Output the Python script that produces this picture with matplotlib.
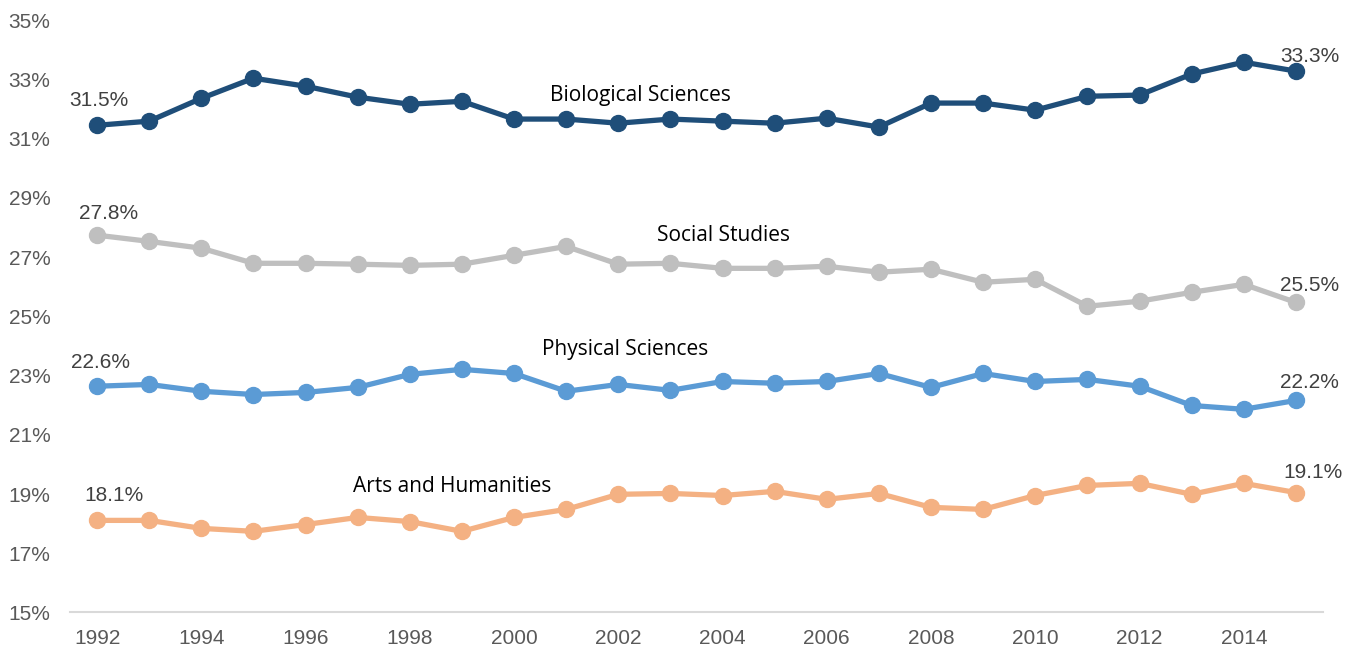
import matplotlib
matplotlib.use("Agg")
import matplotlib.pyplot as plt
from matplotlib.ticker import FuncFormatter

years = list(range(1992, 2016))
bio = [31.45, 31.59, 32.36, 33.04, 32.77, 32.40, 32.16, 32.26, 31.66, 31.66, 31.52, 31.66,
       31.59, 31.52, 31.69, 31.39, 32.20, 32.20, 31.96, 32.43, 32.47, 33.18, 33.58, 33.28]
social = [27.74, 27.53, 27.30, 26.79, 26.79, 26.76, 26.72, 26.76, 27.06, 27.36, 26.76, 26.79,
          26.62, 26.62, 26.69, 26.49, 26.59, 26.15, 26.25, 25.34, 25.51, 25.81, 26.08, 25.47]
physical = [22.64, 22.70, 22.47, 22.36, 22.43, 22.60, 23.04, 23.21, 23.07, 22.47, 22.70, 22.50,
            22.80, 22.74, 22.80, 23.07, 22.60, 23.07, 22.80, 22.87, 22.64, 21.99, 21.86, 22.16]
arts = [18.11, 18.11, 17.84, 17.74, 17.97, 18.21, 18.07, 17.74, 18.21, 18.48, 18.99, 19.02,
        18.95, 19.09, 18.82, 19.02, 18.55, 18.48, 18.95, 19.29, 19.36, 18.99, 19.36, 19.05]

series_names = ["Biological Sciences", "Social Studies", "Physical Sciences", "Arts and Humanities"]
series_values = [bio, social, physical, arts]
colors = ["#1F4E79", "#BFBFBF", "#5B9BD5", "#F4B183"]
start_labels = ["31.5%", "27.8%", "22.6%", "18.1%"]
end_labels = ["33.3%", "25.5%", "22.2%", "19.1%"]
name_pos = [(2002.42, 32.45), (2004.01, 27.72), (2002.13, 23.87), (1998.81, 19.24)]

yticks = [15, 17, 19, 21, 23, 25, 27, 29, 31, 33, 35]
xticks = list(range(1992, 2016, 2))

fig = plt.figure(figsize=(13.59, 6.5), dpi=100)
ax = fig.add_axes([0.0515, 0.0577, 0.922, 0.9113])

for name, vals, c in zip(series_names, series_values, colors):
    ax.plot(years, vals, color=c, lw=3.8, marker='o', markersize=11.5, solid_capstyle='round',
            zorder=3)

start_offsets = [(2, 25), (11, 22), (3, 24), (17, 25)]
end_offsets = [(14, 15), (14, 17), (14, 18), (17, 20)]
for vals, sl, el, so, eo in zip(series_values, start_labels, end_labels, start_offsets, end_offsets):
    ax.annotate(sl, (years[0], vals[0]), xytext=so, textcoords='offset pixels',
                ha='center', va='center', fontsize=15, color='#404040',
                family='Liberation Sans')
    ax.annotate(el, (years[-1], vals[-1]), xytext=eo, textcoords='offset pixels',
                ha='center', va='center', fontsize=15, color='#404040',
                family='Liberation Sans')

for name, (px, py) in zip(series_names, name_pos):
    ax.text(px, py, name, ha='center', va='center', fontsize=15, color='black',
            family='Open Sans')

ax.set_xlim(1991.48, 2015.52)
ax.set_ylim(15, 35)
ax.set_yticks(yticks)
ax.set_xticks(xticks)
ax.yaxis.set_major_formatter(FuncFormatter(lambda v, p: f"{int(round(v))}%"))
for lab in ax.get_xticklabels() + ax.get_yticklabels():
    lab.set_family('Liberation Sans')
    lab.set_fontsize(15)
    lab.set_color('#595959')
ax.tick_params(axis='both', length=0)
ax.tick_params(axis='y', pad=14)
ax.tick_params(axis='x', pad=12)
for s in ['top', 'right', 'left']:
    ax.spines[s].set_visible(False)
ax.spines['bottom'].set_color('#D9D9D9')
ax.spines['bottom'].set_linewidth(1.5)
ax.set_facecolor('white')
fig.patch.set_facecolor('white')

fig.savefig("out.png", dpi=100)
